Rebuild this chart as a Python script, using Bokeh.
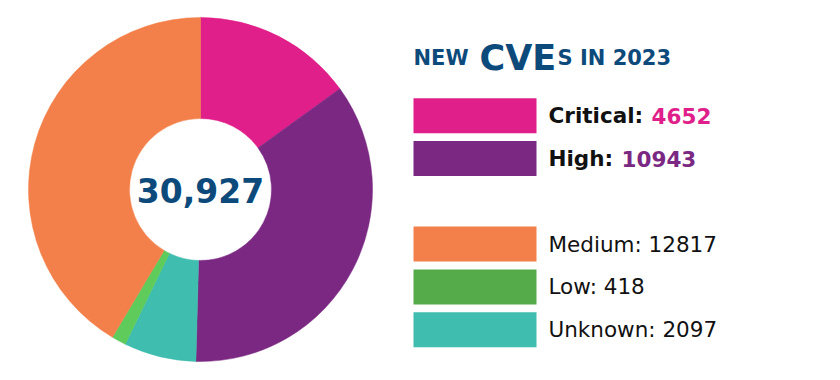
import math
from bokeh.plotting import figure
from bokeh.models import ColumnDataSource, Range1d
from bokeh.core.properties import value
from bokeh.embed import file_html
from bokeh.resources import INLINE

# ---------------- data ----------------
categories = ["Critical", "High", "Medium", "Low", "Unknown"]
counts = [4652, 10943, 12817, 418, 2097]
legend_colors = ["#E01F8B", "#7A2882", "#F3804A", "#55AA4A", "#3FBDAE"]
pie_order = ["Critical", "High", "Unknown", "Low", "Medium"]
pie_colors = ["#E01F8B", "#7A2882", "#3FBDAE", "#5FCB5B", "#F3804A"]
title_parts = ["NEW", "CVE", "S IN 2023"]

total = sum(counts)
total_label = f"{total:,}"

# ---------------- layout helpers (pixel space) ----------------
W, H = 840, 380
def X(px):
    return px
def Y(py):
    return H - py

FONT = "DejaVu Sans"
NAVY = "#0C4A7B"

p = figure(width=W, height=H, x_range=Range1d(0, W), y_range=Range1d(0, H),
           output_backend="svg", toolbar_location=None, min_border=0,
           background_fill_color="white", border_fill_color="white",
           outline_line_color=None)
p.axis.visible = False
p.xgrid.visible = False
p.ygrid.visible = False

# ---------------- donut ----------------
cx, cy, r_out, r_in = X(200), Y(189), 172, 71
vals = [counts[categories.index(c)] for c in pie_order]
starts, ends = [], []
cum = 0.0
for v in vals:
    a0 = math.pi / 2 - 2 * math.pi * cum / total
    cum += v
    a1 = math.pi / 2 - 2 * math.pi * cum / total
    starts.append(a0)
    ends.append(a1)
src = ColumnDataSource(dict(start=starts, end=ends, color=pie_colors,
                            x=[cx] * len(vals), y=[cy] * len(vals)))
p.annular_wedge(x="x", y="y", inner_radius=r_in, outer_radius=r_out,
                start_angle="start", end_angle="end", direction="clock",
                fill_color="color", line_color="color", line_width=0.5, source=src)

p.text(x=[cx], y=[Y(189.5)], text=[total_label], text_align="center", text_baseline="middle",
       text_font=value(FONT), text_font_style="bold", text_font_size="33px",
       text_color=NAVY)

# ---------------- title ----------------
tb = Y(57.5)
p.text(x=[X(413)], y=[tb], text=[title_parts[0]], text_font=value(FONT),
       text_font_style="bold", text_font_size="21px", text_color=NAVY,
       text_baseline="alphabetic")
p.text(x=[X(479)], y=[tb], text=[title_parts[1]], text_font=value(FONT),
       text_font_style="bold", text_font_size="35px", text_color=NAVY,
       text_baseline="alphabetic")
p.text(x=[X(557)], y=[tb], text=[title_parts[2]], text_font=value(FONT),
       text_font_style="bold", text_font_size="21px", text_color=NAVY,
       text_baseline="alphabetic")

# ---------------- legend ----------------
row_y0, pitch = 115.2, 42.8
rows = [i if i < 2 else i + 1 for i in range(len(categories))]
ys = [Y(row_y0 + pitch * r) for r in rows]
p.rect(x=[X(474.5)] * len(ys), y=ys, width=123, height=35,
       fill_color=legend_colors, line_color=None)

num_x = [651, 621]
for i, (cat, cnt, col) in enumerate(zip(categories, counts, legend_colors)):
    if i < 2:
        p.text(x=[X(548)], y=[ys[i]], text=[f"{cat}:"], text_font=value(FONT),
               text_font_style="bold", text_font_size="21.5px", text_color="#111111",
               text_baseline="middle")
        p.text(x=[X(num_x[i])], y=[ys[i]], text=[str(cnt)], text_font=value(FONT),
               text_font_style="bold", text_font_size="21.5px", text_color=col,
               text_baseline="middle")
    else:
        p.text(x=[X(548)], y=[ys[i]], text=[f"{cat}: {cnt}"], text_font=value(FONT),
               text_font_size="21.5px", text_color="#111111", text_baseline="middle")

open("out.html", "w").write(file_html(p, INLINE))
